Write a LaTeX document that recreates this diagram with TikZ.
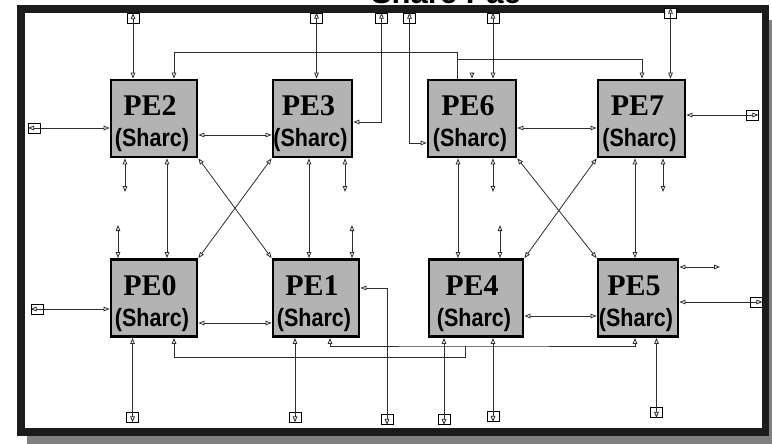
\documentclass[tikz,border=0pt]{standalone}
\usepackage{fontspec}
\usetikzlibrary{arrows.meta}
\newfontfamily\titlefont{Liberation Sans}
\newfontfamily\pefont{Liberation Serif}
\newfontfamily\sharcfont{Liberation Sans}[FakeStretch=0.86]
\definecolor{BoxGray}{HTML}{B3B3B3}
\definecolor{Wire}{HTML}{2E2E2E}
\definecolor{Frame}{HTML}{1C1C1C}
\definecolor{Shadow}{HTML}{808080}

\begin{document}
\begin{tikzpicture}[x=1pt,y=-1pt,
  >={Triangle[open,length=6pt,width=4.6pt]},
  wire/.style={draw=Wire,line width=0.8pt},
  pebox/.style={draw=black,fill=BoxGray,line width=2.8pt,minimum height=77,inner sep=0},
  pename/.style={font=\pefont\bfseries\fontsize{30}{30}\selectfont,inner sep=0,anchor=base},
  sharc/.style={font=\sharcfont\bfseries\fontsize{25}{25}\selectfont,inner sep=0,anchor=base},
  port/.style={draw=black,fill=white,line width=0.8pt,minimum width=12,minimum height=10,inner sep=0}]
        \useasboundingbox (0,0) rectangle (772,444);
        % frame with shadow
        \fill[Shadow] (27,20) rectangle (772,444);
        \fill[Frame] (17,5) rectangle (769,436);
        \fill[white] (25,13) rectangle (762,428);
        \node[font=\titlefont\bfseries\fontsize{31}{31}\selectfont,anchor=base,inner sep=0] (title) at (446,4) {Sharc Pac};
        % processing elements
        \foreach \n/\cx/\cy/\w in {
          2/154/118.5/86,3/312.5/118.5/79,6/472/118.5/88,7/641.5/118.5/87,
          0/154/298/86,1/316/298/86,4/476/298/94,5/638/298/80}
          {
            \node[pebox,minimum width=\w] (pe\n) at (\cx,\cy) {};
            \node[pename] (pe\n name) at ([xshift=-4,yshift=-37]pe\n.north) {PE\n};
            \node[sharc] (pe\n sub) at ([xshift=-2,yshift=-68]pe\n.north) {(Sharc)};
          }
        % ports
        \foreach \p/\px/\py in {
          t1/133/18.5,t2/316.5/18,t3/381.5/18,t4/409.5/18,t5/493/18,t6/670.5/13,
          b1/132.5/417,b2/295/417,b3/387/419.5,b4/444/419.5,b5/493/416.5,b6/656.5/412.5,
          l1/34.5/128,l2/37/309,r1/752/115,r2/756/302}
          \node[port] (\p) at (\px,\py) {};
        % top ports
        \draw[wire,<->] (t1.north) -- (t1.north |- pe2.north);
        \draw[wire,<->] (t2.north) -- (t2.north |- pe3.north);
        \draw[wire,<->] (t3.north) |- (pe3.east |- 0,122);
        \draw[wire,<->] (t4.north) |- (pe6.west |- 0,143);
        \draw[wire,<->] (t5.north) -- (t5.north |- pe6.north);
        \draw[wire,<->] (t6.north) -- (t6.north |- pe7.north);
        % top bus
        \coordinate (busA) at (457,52);
        \coordinate (busB) at (457,59);
        \coordinate (pe6stub) at (472,73);
        \draw[wire,->] (pe6.north -| busA) -- (busA) -| (pe2.north -| 174,0);
        \draw[wire,->] (busB) -| (pe7.north -| 642,0);
        \draw[wire,->] (pe6stub) -- (pe6.north);
        % side ports
        \draw[wire,<->] (l1.west) -- (l1 -| pe2.west);
        \draw[wire,<->] (l2.west) -- (l2 -| pe0.west);
        \draw[wire,<->] (r1.east) -- (r1 -| pe7.east);
        \draw[wire,<->] (r2.east) -- (r2 -| pe5.east);
        \coordinate (pe5out) at (720,267);
        \draw[wire,<->] (pe5.east |- pe5out) -- (pe5out);
        % bottom ports
        \draw[wire,<->] (b1.south) -- (b1.south |- pe0.south);
        \draw[wire,<->] (b2.south) -- (b2.south |- pe1.south);
        \draw[wire,<->] (b3.south) |- (pe1.east |- 0,288);
        \draw[wire,<->] (b4.south) -- (b4.south |- pe4.south);
        \draw[wire,<->] (b5.south) -- (b5.south |- pe4.south);
        \draw[wire,<->] (b6.south) -- (b6.south |- pe5.south);
        % bottom bus
        \coordinate (busC) at (465,346);
        \coordinate (busD) at (465,357);
        \draw[wire,->] (busC) -- (busD) -| (pe0.south -| 174,0);
        \draw[wire,<->] (pe1.south -| 330,0) |- (busC) -| (pe5.south -| 635,0);
        % links between elements
        \foreach \a/\b/\x in {pe2/pe0/167,pe3/pe1/309,pe6/pe4/458,pe7/pe5/635}
          \draw[wire,<->] (\a.south -| \x,0) -- (\b.north -| \x,0);
        \foreach \a/\b/\y in {pe2/pe3/135,pe0/pe1/323,pe6/pe7/128,pe4/pe5/316}
          \draw[wire,<->] (\a.east |- 0,\y) -- (\b.west |- 0,\y);
        \draw[wire,<->] (pe2.south east) -- (pe1.north west);
        \draw[wire,<->] (pe3.south west) -- (pe0.north east);
        \draw[wire,<->] (pe6.south east) -- (pe5.north west);
        \draw[wire,<->] (pe7.south west) -- (pe4.north east);
        % stubs
        \foreach \p/\x in {pe2/125,pe3/345,pe6/493,pe7/663}
          \draw[wire,<->] (\p.south -| \x,0) -- (\x,192);
        \foreach \p/\x in {pe0/118,pe1/352,pe4/500}
          \draw[wire,<->] (\p.north -| \x,0) -- (\x,225);
      \end{tikzpicture}
\end{document}
